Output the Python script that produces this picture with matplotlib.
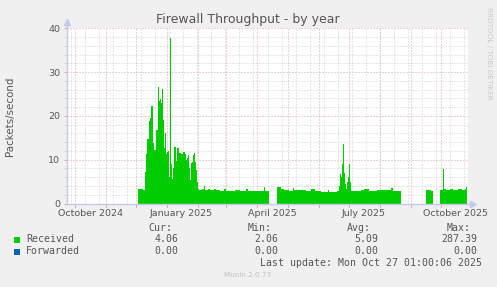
import numpy as np
import matplotlib
matplotlib.use("Agg")
import matplotlib.pyplot as plt
import matplotlib.dates as mdates
from matplotlib.patches import Rectangle

W, H = 497, 287

# Received packets/second (daily averages), NaN = no data
rx_dates = [
    "2024-12-03", "2024-12-06", "2024-12-08", "2024-12-10", "2024-12-11", "2024-12-12",
    "2024-12-14", "2024-12-15", "2024-12-16", "2024-12-17", "2024-12-18", "2024-12-19",
    "2024-12-21", "2024-12-22", "2024-12-23", "2024-12-24", "2024-12-25", "2024-12-26",
    "2024-12-27", "2024-12-28", "2024-12-29", "2024-12-30", "2024-12-31", "2025-01-01",
    "2025-01-02", "2025-01-03", "2025-01-04", "2025-01-05", "2025-01-06", "2025-01-07",
    "2025-01-08", "2025-01-10", "2025-01-11", "2025-01-12", "2025-01-13", "2025-01-15",
    "2025-01-17", "2025-01-19", "2025-01-20", "2025-01-21", "2025-01-22", "2025-01-23",
    "2025-01-24", "2025-01-25", "2025-01-26", "2025-01-27", "2025-01-28", "2025-01-29",
    "2025-01-30", "2025-01-31", "2025-02-01", "2025-02-02", "2025-02-05", "2025-02-07",
    "2025-02-08", "2025-02-11", "2025-02-13", "2025-02-17", "2025-02-19", "2025-02-23",
    "2025-02-27", "2025-03-01", "2025-03-05", "2025-03-10", "2025-03-15", "2025-03-21",
    "2025-03-23", "2025-03-30", "2025-04-08", "2025-04-09", "2025-04-12", "2025-04-13",
    "2025-04-20", "2025-04-24", "2025-04-27", "2025-05-02", "2025-05-06", "2025-05-07",
    "2025-05-14", "2025-05-19", "2025-05-24", "2025-05-28", "2025-06-03", "2025-06-10",
    "2025-06-11", "2025-06-19", "2025-06-21", "2025-06-22", "2025-06-23", "2025-06-24",
    "2025-06-25", "2025-06-26", "2025-06-27", "2025-06-28", "2025-06-29", "2025-06-30",
    "2025-07-01", "2025-07-02", "2025-07-03", "2025-07-13", "2025-07-16", "2025-07-21",
    "2025-07-29", "2025-08-06", "2025-08-12", "2025-08-14", "2025-08-22", "2025-08-29",
    "2025-09-16", "2025-09-21", "2025-09-23", "2025-09-27", "2025-09-30", "2025-10-03",
    "2025-10-04", "2025-10-06", "2025-10-10", "2025-10-13", "2025-10-18", "2025-10-22",
    "2025-10-25", "2025-10-26", "2025-10-27",
]
rx_values = [
    3.2, 3.3, 3.1, 7.2, 11.4, 14.8,
    18.9, 19.6, 22.3, 22.3, 13.7, 12.2,
    16.7, 16.7, 26.5, 23.5, 23.9, 23.0,
    26.2, 19.0, 12.6, 16.2, 11.4, 11.8,
    12.0, 6.0, 37.8, 9.0, 5.5, 8.0,
    12.9, 9.8, 12.7, 12.6, 11.6, 11.4,
    11.7, 11.4, 10.0, 10.5, 11.1, 8.0,
    5.3, 9.2, 9.5, 11.0, 11.6, 9.5,
    7.7, 5.0, 3.2, 3.0, 3.3, 3.9,
    3.1, 3.4, 3.0, 3.3, 3.0, 2.8,
    3.2, 2.9, 2.8, 3.0, 2.8, 3.2,
    2.9, 2.9, 3.8, 2.8, 3.0, np.nan,
    3.8, 3.3, 3.0, 2.9, 3.6, 3.0,
    3.1, 2.9, 3.2, 2.8, 2.7, 3.0,
    2.7, 2.8, 4.0, 6.8, 6.0, 9.0,
    13.5, 7.0, 4.5, 3.4, 4.9, 6.0,
    9.1, 5.0, 2.9, 3.0, 3.2, 2.9,
    3.0, 3.0, 3.5, 2.9, 3.1, np.nan,
    3.0, 2.8, 3.0, np.nan, 3.0, 7.8,
    3.4, 3.0, 3.3, 3.0, 3.2, 3.1,
    3.4, 3.7, 3.7,
]
fw_values = [0.0 if not np.isnan(v) else np.nan for v in rx_values]

legend_names = ["Received", "Forwarded"]
legend_colors = ["#00cc00", "#0066b3"]
stat_headers = ["Cur:", "Min:", "Avg:", "Max:"]
stats = [["4.06", "2.06", "5.09", "287.39"], ["0.00", "0.00", "0.00", "0.00"]]

xlabels = ["October 2024", "January 2025", "April 2025", "July 2025", "October 2025"]
xlabel_dates = ["2024-10-16", "2025-01-15", "2025-04-16", "2025-07-16", "2025-10-16"]

x_start, x_end = "2024-09-23", "2025-10-28"

major_col = "#e6a3a3"
minor_col = "#cfcfcf"
axis_col = "#c4c8ee"
text_col = "#555555"


def fx(x):
    return x / W


def fy(y):
    return 1 - y / H


def to_dt(s):
    return np.datetime64(s, "s").astype(object)


fig = plt.figure(figsize=(W / 100, H / 100), dpi=100, facecolor="#f0f0f0")
ax = fig.add_axes([fx(67), fy(203.5), (468 - 67) / W, (203.5 - 28.3) / H])
ax.set_facecolor("white")

d = [to_dt(s) for s in rx_dates]
ax.fill_between(d, rx_values, step="post", color=legend_colors[0], linewidth=0, zorder=3)
ax.fill_between(d, fw_values, step="post", color=legend_colors[1], linewidth=0, zorder=3)

ax.set_xlim(mdates.date2num(to_dt(x_start)), mdates.date2num(to_dt(x_end)))
ax.set_ylim(0, 40)

# grid (rrdtool style dotted lines, below the data)
dots = (0, (1, 2))
for v in range(0, 41, 2):
    c = major_col if v % 10 == 0 else minor_col
    ax.axhline(v, color=c, lw=0.72, ls=dots, zorder=1)
months = np.arange(np.datetime64("2024-10"), np.datetime64("2025-11"), dtype="datetime64[M]")
for m in months:
    md = to_dt(str(m) + "-01")
    ax.axvline(md, color=major_col, lw=0.72, ls=dots, zorder=1.5)
    ax.plot([md, md], [-0.02, 0.0], color=major_col, lw=0.72,
            transform=ax.get_xaxis_transform(), clip_on=False, zorder=1.5)
weeks = np.arange(np.datetime64("2024-09-27"), np.datetime64("2025-10-28"), 14)
for w in weeks:
    ax.axvline(to_dt(str(w)), color=minor_col, lw=0.72, ls=dots, zorder=1)

ax.set_xticks([mdates.date2num(to_dt(s)) for s in xlabel_dates])
ax.set_xticklabels(xlabels)
ax.tick_params(axis="x", length=0, pad=4, labelsize=6.8, labelcolor=text_col)
ax.set_yticks(range(0, 41, 10))
ax.set_yticks(range(0, 41, 2), minor=True)
ax.tick_params(axis="y", which="major", length=2.5, color=major_col, pad=2.5, labelsize=6.8,
               labelcolor=text_col)
ax.tick_params(axis="y", which="minor", length=2.5, color=minor_col)

for s in ["top", "right"]:
    ax.spines[s].set_visible(False)
for s in ["left", "bottom"]:
    ax.spines[s].set_color(axis_col)
    ax.spines[s].set_linewidth(1)
    ax.spines[s].set_zorder(4)
ax.plot([0, 0], [1.0, 1.03], color=axis_col, lw=1, transform=ax.transAxes, clip_on=False)
ax.plot([0], [1.035], marker="^", ms=4, color=axis_col, transform=ax.transAxes, clip_on=False)
ax.plot([1.0, 1.01], [0, 0], color=axis_col, lw=1, transform=ax.transAxes, clip_on=False)
ax.plot([1.012], [0], marker=">", ms=4, color=axis_col, transform=ax.transAxes, clip_on=False)

ax.set_ylabel("Packets/second", fontsize=7.4, color=text_col)
ax.yaxis.set_label_coords((15 - 67) / (468 - 67), 0.5)

fig.text(fx(248), fy(19.5), "Firewall Throughput - by year", ha="center", va="center",
         fontsize=9.0, color=text_col)
fig.text(fx(488.5), fy(53), "RRDTOOL / TOBI OETIKER", ha="center", va="center",
         rotation=270, fontsize=5.2, color="#c8c8c8")

mono = {"family": "DejaVu Sans Mono", "fontsize": 7.1, "color": text_col}
head_x = [172.5, 272, 371, 470.5]
val_x = [178.5, 278.5, 378, 477.5]
for hx, h in zip(head_x, stat_headers):
    fig.text(fx(hx), fy(227.7), h, ha="right", va="center", **mono)
rows_y = [239.5, 251.5]
for ry, name, col, vals in zip(rows_y, legend_names, legend_colors, stats):
    fig.add_artist(Rectangle((fx(14), fy(ry + 3)), 6 / W, 6 / H, transform=fig.transFigure,
                             facecolor=col, edgecolor="none"))
    fig.text(fx(26), fy(ry), name, ha="left", va="center", **mono)
    for vx, v in zip(val_x, vals):
        fig.text(fx(vx), fy(ry), v, ha="right", va="center", **mono)
fig.text(fx(482.5), fy(263.5), "Last update: Mon Oct 27 01:00:06 2025", ha="right", va="center",
         **mono)
fig.text(fx(248), fy(275), "Munin 2.0.73", ha="center", va="center", fontsize=5.2,
         color="#c0c0c0")

fig.savefig("out.png", dpi=100, facecolor=fig.get_facecolor())
